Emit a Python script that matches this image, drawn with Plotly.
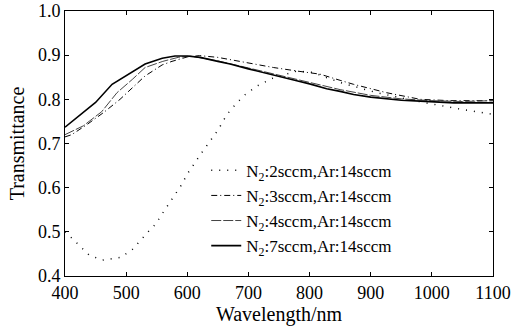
import plotly.graph_objects as go

# N2:2sccm (sparse dotted)
wl_2 = [400, 411, 439, 461, 491, 510, 538, 548, 559, 571, 589, 601, 624, 650, 665, 681, 695, 714, 740, 779, 806, 828, 855, 910, 990, 1046, 1100]
tr_2 = [0.50, 0.486, 0.448, 0.436, 0.442, 0.46, 0.503, 0.517, 0.541, 0.565, 0.603, 0.633, 0.68, 0.73, 0.766, 0.792, 0.811, 0.83, 0.848, 0.864, 0.861, 0.849, 0.836, 0.815, 0.792, 0.778, 0.766]

# N2:3sccm (dash-dot)
wl_3 = [400, 411, 436, 463, 490, 510, 531, 559, 575, 600, 620, 650, 697, 741, 780, 817, 850, 872, 926, 981, 1030, 1100]
tr_3 = [0.715, 0.72, 0.743, 0.77, 0.80, 0.825, 0.853, 0.878, 0.886, 0.896, 0.899, 0.895, 0.883, 0.872, 0.864, 0.857, 0.843, 0.834, 0.815, 0.80, 0.797, 0.797]

# N2:4sccm (long dash)
wl_4 = [400, 430, 460, 485, 510, 531, 560, 585, 605, 650, 700, 750, 800, 850, 900, 950, 1000, 1050, 1100]
tr_4 = [0.72, 0.74, 0.772, 0.815, 0.845, 0.872, 0.886, 0.895, 0.898, 0.887, 0.871, 0.855, 0.838, 0.822, 0.809, 0.801, 0.797, 0.795, 0.797]

# N2:7sccm (solid)
wl_7 = [400, 425, 450, 477, 504, 531, 559, 580, 600, 621, 650, 670, 700, 725, 750, 779, 800, 828, 850, 872, 900, 926, 950, 981, 1000, 1036, 1070, 1100]
tr_7 = [0.737, 0.765, 0.793, 0.834, 0.857, 0.88, 0.893, 0.898, 0.898, 0.895, 0.886, 0.88, 0.869, 0.861, 0.852, 0.842, 0.835, 0.824, 0.818, 0.811, 0.805, 0.801, 0.798, 0.796, 0.795, 0.792, 0.792, 0.792]

names = ["N<sub>2</sub>:2sccm,Ar:14sccm", "N<sub>2</sub>:3sccm,Ar:14sccm",
         "N<sub>2</sub>:4sccm,Ar:14sccm", "N<sub>2</sub>:7sccm,Ar:14sccm"]

x_ticks = [400, 500, 600, 700, 800, 900, 1000, 1100]
y_ticks = [0.4, 0.5, 0.6, 0.7, 0.8, 0.9, 1.0]
y_labels = ["0.4", "0.5", "0.6", "0.7", "0.8", "0.9", "1.0"]

FONT = "Liberation Serif, Times New Roman, serif"

fig = go.Figure()
fig.add_trace(go.Scatter(x=wl_2, y=tr_2, mode="lines", name=names[0],
                         line=dict(color="black", width=1.5, dash="1px,7px")))
fig.add_trace(go.Scatter(x=wl_3, y=tr_3, mode="lines", name=names[1],
                         line=dict(color="black", width=1, dash="6px,3px,1px,3px")))
fig.add_trace(go.Scatter(x=wl_4, y=tr_4, mode="lines", name=names[2],
                         line=dict(color="#444", width=1, dash="10px,2px")))
fig.add_trace(go.Scatter(x=wl_7, y=tr_7, mode="lines", name=names[3],
                         line=dict(color="black", width=1.6)))

axis_common = dict(showline=True, linecolor="black", linewidth=1, mirror="ticks",
                   ticks="inside", ticklen=4, tickcolor="black", showgrid=False,
                   zeroline=False, automargin=False,
                   tickfont=dict(family=FONT, size=18, color="black"))

fig.update_layout(
    width=514, height=333,
    margin=dict(l=65, r=21, t=11, b=57),
    paper_bgcolor="white", plot_bgcolor="white",
    font=dict(family=FONT, color="black"),
    xaxis=dict(range=[400, 1100], tickvals=x_ticks, ticktext=[str(v) for v in x_ticks],
               title=dict(text="Wavelength/nm", font=dict(family=FONT, size=20), standoff=0),
               **axis_common),
    yaxis=dict(range=[0.4, 1.0], tickvals=y_ticks, ticktext=y_labels,
               title=dict(text="Transmittance", font=dict(family=FONT, size=20), standoff=7),
               **axis_common),
    legend=dict(x=0.33, y=0.465, xanchor="left", yanchor="top",
                bgcolor="rgba(0,0,0,0)", borderwidth=0,
                font=dict(family=FONT, size=17, color="black"),
                tracegroupgap=0, itemwidth=30),
    showlegend=True,
)

fig.write_html("out.html",
               config={"displayModeBar": False},
               post_script="document.body.style.margin='0';document.body.style.padding='0';")
